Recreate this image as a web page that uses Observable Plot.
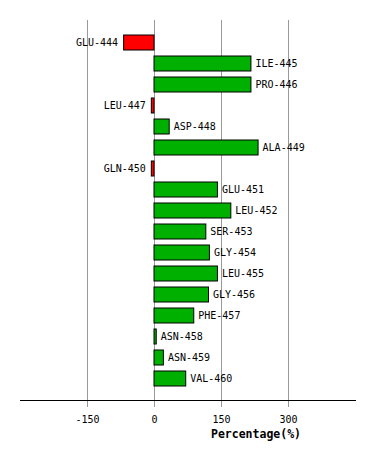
<!DOCTYPE html>
<html>
<head>
<meta charset="utf-8">
<script src="https://cdn.jsdelivr.net/npm/d3@7"></script>
<script src="https://cdn.jsdelivr.net/npm/@observablehq/plot@0.6"></script>
<style>
  html, body { margin: 0; padding: 0; background: #fff; }
</style>
</head>
<body>
<div id="chart"></div>
<script>
const residues = ["GLU-444","ILE-445","PRO-446","LEU-447","ASP-448","ALA-449","GLN-450","GLU-451","LEU-452","SER-453","GLY-454","LEU-455","GLY-456","PHE-457","ASN-458","ASN-459","VAL-460"];
const percentages = [-68, 217, 217, -6, 34, 233, -6, 142, 172, 116, 124, 142, 122, 89, 5, 21, 71];
const xTicks = [-150, 0, 150, 300];
const xDomain = [-300, 450];
const axisTitle = "Percentage(%)";

const data = residues.map((r, i) => ({residue: r, value: percentages[i]}));
const pos = data.filter(d => d.value >= 0);
const neg = data.filter(d => d.value < 0);

const chart = Plot.plot({
  width: 374,
  height: 460,
  marginTop: 20,
  marginBottom: 60,
  marginLeft: 20,
  marginRight: 19,
  style: {fontFamily: "DejaVu Sans Mono", fontSize: "10px", background: "#fff", color: "#000"},
  x: {domain: xDomain, ticks: xTicks, tickFormat: d => String(d)},
  y: {domain: residues, paddingInner: 0.29, paddingOuter: 0.63, axis: null},
  marks: [
    Plot.gridX(xTicks, {stroke: "#999", strokeOpacity: 1}),
    Plot.barX(data, {
      x: "value", y: "residue",
      fill: d => d.value < 0 ? "#ff0000" : "#00b000",
      stroke: "#000", strokeWidth: 1
    }),
    Plot.text(pos, {x: "value", y: "residue", text: "residue", textAnchor: "start", dx: 4, fill: "#000", fontSize: 10}),
    Plot.text(neg, {x: "value", y: "residue", text: "residue", textAnchor: "end", dx: -6, fill: "#000", fontSize: 10}),
    Plot.axisX(xTicks, {tickSize: 7, tickPadding: 8, stroke: "#999", fill: "#000", label: null, tickFormat: d => String(d), fontSize: 10}),
    Plot.frame({anchor: "bottom", stroke: "#000"}),
    Plot.text([axisTitle], {frameAnchor: "bottom", dx: 68, dy: 37, text: d => d, fontWeight: "bold", fontSize: 11.5, fill: "#000"})
  ]
});
document.getElementById("chart").appendChild(chart);
</script>
</body>
</html>
